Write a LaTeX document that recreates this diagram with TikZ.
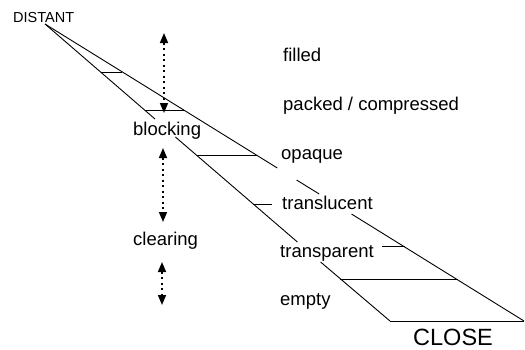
\documentclass[tikz,border=0pt]{standalone}
\usepackage{fontspec}
\setmainfont{Liberation Sans}
\usetikzlibrary{arrows.meta}
\tikzset{
  edge/.style={draw=black, line width=0.9pt},
  lbl/.style={anchor=base west, inner sep=0pt, font=\fontsize{18.5}{20}\selectfont},
  small/.style={anchor=base west, inner sep=0pt, font=\fontsize{14.5}{16}\selectfont},
  big/.style={anchor=base west, inner sep=0pt, font=\fontsize{23.5}{26}\selectfont},
  dotarrow/.style={line width=1.6pt, dash pattern=on 2pt off 3.5pt,
    {Triangle[length=10pt,width=8pt]}-{Triangle[length=10pt,width=8pt]}}
}
\begin{document}
\begin{tikzpicture}[x=1pt,y=-1pt]
\useasboundingbox (0,0) rectangle (525,349);
% texts
\node[small] (distant) at (13,22) {DISTANT};
\node[lbl] (filled) at (283,61) {filled};
\node[lbl] (packed) at (283,110) {packed / compressed};
\node[lbl] (blocking) at (133,135) {blocking};
\node[lbl] (opaque) at (281,159) {opaque};
\node[lbl] (transl) at (282,209) {translucent};
\node[lbl] (clearing) at (133,245) {clearing};
\node[lbl] (transp) at (280,257) {transparent};
\node[lbl] (empty) at (280,305) {empty};
\node[big] (close) at (413,345) {CLOSE};
% key points
\coordinate (A) at (45,24);
\coordinate (L) at (390,321);
\coordinate (U) at (524,321);
% lower edge segments
\coordinate (lo1) at (155,119);
\coordinate (lo2) at (175.4,137);
\coordinate (lo3) at (297.4,242);
\coordinate (lo4) at (320.6,262);
\draw[edge] (A) -- (lo1);
\draw[edge] (lo2) -- (lo3);
\draw[edge] (lo4) -- (L);
% upper edge segments
\coordinate (up1) at (277.3,168);
\coordinate (up2) at (296.6,180);
\coordinate (up3) at (319.2,194);
\coordinate (up4) at (351.5,214);
\draw[edge] (A) -- (up1);
\draw[edge] (up2) -- (up3);
\draw[edge] (up4) -- (U);
% cross sections
\coordinate (h1a) at (100.6,72);  \coordinate (h1b) at (122.4,72);
\coordinate (h2a) at (144.6,110); \coordinate (h2b) at (183.7,110);
\coordinate (h3a) at (196.7,155); \coordinate (h3b) at (257,155);
\coordinate (h4a) at (253.4,204); \coordinate (h4b) at (272,204);
\coordinate (h5a) at (382,246);   \coordinate (h5b) at (405,246);
\coordinate (h6a) at (340.3,279); \coordinate (h6b) at (458,279);
\draw[edge] (h1a) -- (h1b);
\draw[edge] (h2a) -- (h2b);
\draw[edge] (h3a) -- (h3b);
\draw[edge] (h4a) -- (h4b);
\draw[edge] (h5a) -- (h5b);
\draw[edge] (h6a) -- (h6b);
\draw[edge] (L) -- (U);
% dotted double arrows
\coordinate (a1t) at (164,33);  \coordinate (a1b) at (164,113);
\coordinate (a2t) at (163,148); \coordinate (a2b) at (163,222);
\coordinate (a3t) at (162,262); \coordinate (a3b) at (162,305);
\draw[dotarrow] (a1t) -- (a1b);
\draw[dotarrow] (a2t) -- (a2b);
\draw[dotarrow] (a3t) -- (a3b);
\end{tikzpicture}
\end{document}
